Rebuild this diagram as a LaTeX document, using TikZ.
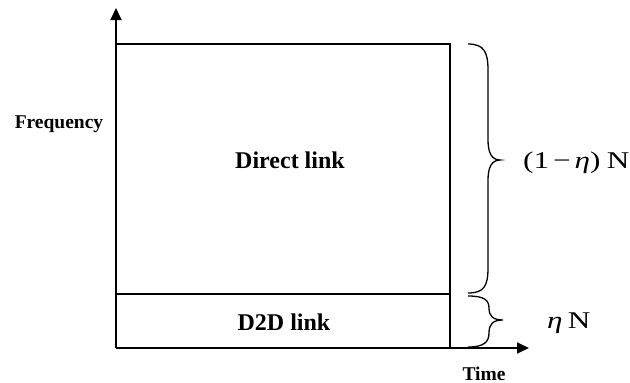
\documentclass[tikz,border=0pt]{standalone}
\usepackage{fontspec}
\setmainfont{Liberation Serif}
\usetikzlibrary{arrows.meta}
\begin{document}
\begin{tikzpicture}[x=1pt,y=-1pt,
  axis/.style={line width=1.8pt,-{Triangle[length=12pt,width=11pt]}},
  band/.style={line width=1.3pt},
  lbl/.style={anchor=base,font=\bfseries\fontsize{24}{27}\selectfont},
  axlbl/.style={anchor=base,font=\bfseries\fontsize{19.5}{22}\selectfont},
  share/.style={anchor=base west,inner sep=0pt,font=\fontsize{24}{27}\selectfont}]
\useasboundingbox (0,0) rectangle (630,383);
%%% axes
\coordinate (o) at (116,348);
\coordinate (fmax) at (116,8);
\coordinate (tmax) at (529,348);
\draw[axis] (o) -- (fmax);
\draw[axis] (o) -- (tmax);
\node[axlbl] (freq) at (59,128) {Frequency};
\node[axlbl] (time) at (484,380) {Time};
%%% the two bands
\coordinate (tl) at (116,44);
\coordinate (tr) at (450,44);
\coordinate (ml) at (116,294);
\coordinate (mr) at (450,294);
\coordinate (br) at (450,348);
\draw[band] (tl) -- (tr) -- (br);
\draw[band] (ml) -- (mr);
\node[lbl] (direct) at (290,168) {Direct link};
\node[lbl] (d2d) at (284,330) {D2D link};
%%% braces
\draw[line width=1.3pt] (468,44) .. controls (484,44) and (488,52) .. (488,70) -- (488,140)
  .. controls (488,153) and (492,160) .. (500,160)
  .. controls (492,160) and (488,167) .. (488,180) -- (488,268)
  .. controls (488,286) and (484,293) .. (468,293);
\draw[line width=1.3pt] (468,296) .. controls (484,296) and (489,300) .. (489,308)
  .. controls (489,316) and (493,320) .. (503,320)
  .. controls (493,320) and (489,324) .. (489,333)
  .. controls (489,342) and (484,347) .. (468,347);
\node[share] (part) at (523,168) {\scalebox{1.3}[1]{(1\hspace{3pt}−\hspace{3pt}\textit{η})\hspace{5pt}N}};
\node[share] (eta) at (547,328) {\scalebox{1.3}[1]{\textit{η}\hspace{4pt}N}};
\end{tikzpicture}
\end{document}
